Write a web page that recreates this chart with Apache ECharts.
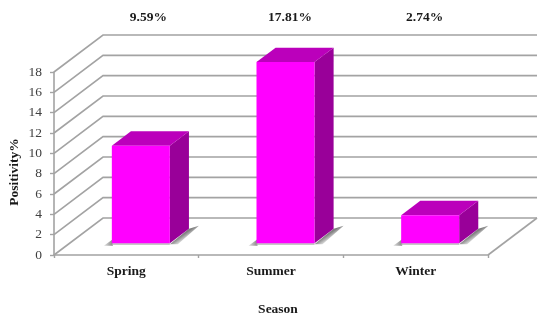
<!DOCTYPE html>
<html>
<head>
<meta charset="utf-8">
<style>html,body{margin:0;padding:0;background:#fff}#c{width:550px;height:318px}</style>
<script src="https://cdn.jsdelivr.net/npm/echarts@6/dist/echarts.min.js"></script>
</head>
<body>
<div id="c"></div>
<script>
const seasons = ['Spring', 'Summer', 'Winter'];
const positivity = [9.59, 17.81, 2.74];
const valueLabels = ['9.59%', '17.81%', '2.74%'];
const yTicks = [0, 2, 4, 6, 8, 10, 12, 14, 16, 18];

// 3D projection constants and styling (layout only, no data)
const DX = 49, DY = 37;
const BAR_W = 58, BAR_SHIFT = 14.5, BAR_NEAR = 0.32, BAR_FAR = 0.71;
const LABEL_SHIFT = [22, 19, 9];
const GRID_COLOR = '#a3a3a3';
const SERIF = '"Liberation Serif","Times New Roman",serif';

const chart = echarts.init(document.getElementById('c'), null, {renderer: 'canvas'});

function wallItem(params, api) {
  const v = api.value(0);
  const band = api.size([1, 0])[0];
  const p0 = api.coord([0, v]);
  const pEnd = api.coord([seasons.length - 1, v]);
  const left = p0[0] - band / 2, right = pEnd[0] + band / 2, y = p0[1];
  const style = {stroke: GRID_COLOR, lineWidth: 1.6, fill: null};
  const children = [
    {type: 'polyline', shape: {points: [[left, y], [left + DX, y - DY], [right + DX, y - DY]]}, style}
  ];
  if (v === 0) {
    children.push({type: 'line', shape: {x1: right, y1: y, x2: right + DX, y2: y - DY}, style});
  }
  return {type: 'group', silent: true, children};
}

function shadowItem(params, api) {
  const c = api.value(0);
  const p = api.coord([c, 0]);
  const x0 = p[0] + BAR_SHIFT - BAR_W / 2, x1 = x0 + BAR_W;
  const y0 = p[1] - DY * BAR_NEAR;
  const dd = (BAR_FAR - BAR_NEAR);
  const right = {
    type: 'polygon',
    shape: {points: [[x1, y0 + 1], [x1 + DX * dd, y0 - DY * dd], [x1 + DX * dd + 10, y0 - DY * dd - 3], [x1 + 8, y0 + 1]]},
    style: {fill: {type: 'linear', x: 0.33, y: 0.61, x2: 0.47, y2: 0.94, colorStops: [{offset: 0, color: '#808080'}, {offset: 0.5, color: '#c4c4c4'}, {offset: 1, color: '#ffffff'}]}}
  };
  const leftS = {
    type: 'polygon',
    shape: {points: [[x0 - 8, y0 + 2.5], [x0 + 1, y0 - 4], [x0 + 1, y0 + 2.5]]},
    style: {fill: {type: 'linear', x: 0, y: 0, x2: 1, y2: 0, colorStops: [{offset: 0, color: '#e4e4e4'}, {offset: 1, color: '#858585'}]}}
  };
  const bottom = {
    type: 'rect',
    shape: {x: x0, y: y0, width: BAR_W, height: 1.5},
    style: {fill: '#b5b5b5'}
  };
  return {type: 'group', silent: true, children: [right, leftS, bottom]};
}

function barItem(params, api) {
  const c = api.value(0), v = api.value(1);
  const base = api.coord([c, 0]), top = api.coord([c, v]);
  const x0 = base[0] + BAR_SHIFT - BAR_W / 2, x1 = x0 + BAR_W;
  const yb = base[1] - DY * BAR_NEAR, yt = top[1] - DY * BAR_NEAR;
  const dd = BAR_FAR - BAR_NEAR, ox = DX * dd, oy = DY * dd;
  return {type: 'group', children: [
    {type: 'polygon', shape: {points: [[x1, yb], [x1 + ox, yb - oy], [x1 + ox, yt - oy], [x1, yt]]}, style: {fill: '#990099'}},
    {type: 'polygon', shape: {points: [[x0, yt], [x0 + ox, yt - oy], [x1 + ox, yt - oy], [x1, yt]]}, style: {fill: '#bb00bb'}},
    {type: 'rect', shape: {x: x0, y: yt, width: BAR_W, height: yb - yt}, style: {fill: '#ff00ff'}}
  ]};
}

function labelItem(params, api) {
  const c = api.value(0);
  const p = api.coord([c, 18]);
  return {
    type: 'text',
    x: p[0] + LABEL_SHIFT[c],
    y: p[1] - 54,
    style: {
      text: valueLabels[c], align: 'center', verticalAlign: 'middle',
      font: 'bold 13.5px ' + SERIF, fill: '#1a1a1a'
    }
  };
}

chart.setOption({
  animation: false,
  backgroundColor: '#ffffff',
  grid: {left: 54, right: 62, top: 72, bottom: 63, outerBoundsMode: 'none'},
  xAxis: {
    type: 'category',
    data: seasons,
    name: 'Season',
    nameLocation: 'middle',
    nameGap: 48,
    nameMoveOverlap: false,
    nameTextStyle: {fontFamily: SERIF, fontWeight: 'bold', fontSize: 13.5, color: '#1a1a1a', padding: [0, 0, 0, 14]},
    axisLine: {show: true, lineStyle: {color: GRID_COLOR, width: 1.6}},
    axisTick: {show: true, length: 3, alignWithLabel: false, lineStyle: {color: GRID_COLOR, width: 1.4}},
    axisLabel: {fontFamily: SERIF, fontWeight: 'bold', fontSize: 13.5, color: '#1a1a1a', margin: 10},
    splitLine: {show: false}
  },
  yAxis: {
    type: 'value',
    min: 0, max: 18, interval: 2,
    name: 'Positivity%',
    nameLocation: 'middle',
    nameGap: 32,
    nameMoveOverlap: false,
    nameRotate: 90,
    nameTextStyle: {fontFamily: SERIF, fontWeight: 'bold', fontSize: 13.5, color: '#1a1a1a', padding: [0, 17, 0, 0]},
    axisLine: {show: true, lineStyle: {color: GRID_COLOR, width: 1.6}},
    axisTick: {show: true, length: 4, lineStyle: {color: GRID_COLOR, width: 1.4}},
    axisLabel: {fontFamily: SERIF, fontSize: 13.5, color: '#404040', margin: 12},
    splitLine: {show: false}
  },
  series: [
    {type: 'custom', name: 'walls', coordinateSystem: 'cartesian2d', clip: false, z: 1, silent: true,
     encode: {y: 0}, data: yTicks.map(v => [v]), renderItem: wallItem},
    {type: 'custom', name: 'shadows', coordinateSystem: 'cartesian2d', clip: false, z: 2, silent: true,
     data: seasons.map((s, i) => [i]), renderItem: shadowItem},
    {type: 'custom', name: 'Positivity', coordinateSystem: 'cartesian2d', clip: false, z: 3,
     data: positivity.map((v, i) => [i, v]), renderItem: barItem},
    {type: 'custom', name: 'labels', coordinateSystem: 'cartesian2d', clip: false, z: 4, silent: true,
     data: positivity.map((v, i) => [i, v]), renderItem: labelItem}
  ]
});
</script>
</body>
</html>
